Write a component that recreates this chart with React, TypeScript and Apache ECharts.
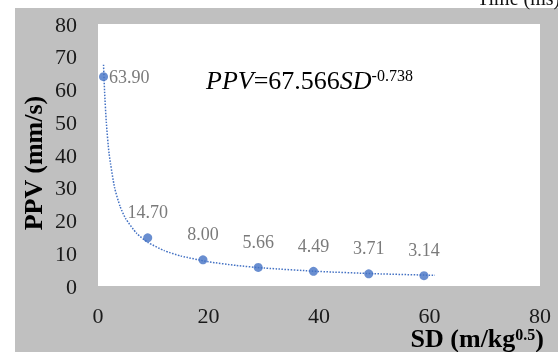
import React, { useEffect, useRef } from "react";
import * as echarts from "echarts";

const sdValues = [1, 9, 19, 29, 39, 49, 59];
const ppvValues = [63.9, 14.7, 8.0, 5.66, 4.49, 3.71, 3.14];
const trendSD = [1, 1.2, 1.5, 2, 3, 4, 5, 7, 9, 12, 15, 20, 25, 30, 40, 50, 61];
const trendPPV = [67.57, 59.06, 50.09, 40.51, 30.03, 24.29, 20.6, 16.07, 13.35, 10.8, 9.16, 7.41, 6.28, 5.49, 4.44, 3.76, 3.25];
const xAxisRange = [0, 80, 20];
const yAxisRange = [0, 80, 10];
const equationParts = ["PPV", "=67.566", "SD", "-0.738"];
const xNameParts = ["SD (m/kg", "0.5", ")"];
const yName = "PPV (mm/s)";
const topLabel = "Time (ms)";

const FONT = "'Liberation Serif', 'Times New Roman', serif";
const BLUE = "#4472C4";

export default function App() {
  const ref = useRef<HTMLDivElement>(null);
  useEffect(() => {
    if (!ref.current) return;
    const chart = echarts.init(ref.current, null, { renderer: "svg" });
    const points = sdValues.map((x, i) => [x, ppvValues[i]]);
    const trend = trendSD.map((x, i) => [x, trendPPV[i]]);
    chart.setOption({
      animation: false,
      grid: {
        left: 98,
        top: 24,
        right: 18,
        bottom: 66,
        show: true,
        backgroundColor: "#ffffff",
        borderWidth: 0,
        containLabel: false,
        outerBoundsMode: "none",
        z: 0,
      },
      graphic: [
        {
          type: "rect",
          z: -10,
          shape: { x: 15, y: 8, width: 543, height: 344 },
          style: { fill: "#c0c0c0" },
          silent: true,
        },
        {
          type: "text",
          x: 477,
          y: 8,
          z: 5,
          style: {
            text: topLabel,
            font: `20px ${FONT}`,
            fill: "#111",
            verticalAlign: "bottom",
            align: "left",
          },
        },
        {
          type: "text",
          x: 206,
          y: 80,
          z: 5,
          style: {
            text: `{i|${equationParts[0]}}{r|${equationParts[1]}}{i|${equationParts[2]}}{s|${equationParts[3]}}`,
            verticalAlign: "middle",
            align: "left",
            rich: {
              i: { fontFamily: FONT, fontStyle: "italic", fontSize: 26, color: "#111" },
              r: { fontFamily: FONT, fontSize: 26, color: "#111" },
              s: { fontFamily: FONT, fontSize: 16, color: "#111", verticalAlign: "top" },
            },
          },
        },
        {
          type: "text",
          x: 544,
          y: 338,
          z: 5,
          style: {
            text: `{b|${xNameParts[0]}}{s|${xNameParts[1]}}{b|${xNameParts[2]}}`,
            verticalAlign: "middle",
            align: "right",
            rich: {
              b: { fontFamily: FONT, fontWeight: "bold", fontSize: 26, lineHeight: 24, color: "#000" },
              s: { fontFamily: FONT, fontWeight: "bold", fontSize: 16, lineHeight: 16, color: "#000", verticalAlign: "top" },
            },
          },
        },
        {
          type: "text",
          x: 33,
          y: 163,
          rotation: Math.PI / 2,
          z: 5,
          style: {
            text: yName,
            font: `bold 26px ${FONT}`,
            fill: "#000",
            align: "center",
            verticalAlign: "middle",
          },
        },
      ],
      xAxis: {
        type: "value",
        min: xAxisRange[0],
        max: xAxisRange[1],
        interval: xAxisRange[2],
        axisLine: { show: false },
        axisTick: { show: false },
        splitLine: { show: false },
        axisLabel: { fontFamily: FONT, fontSize: 22, lineHeight: 20, color: "#1a1a1a", margin: 19 },
      },
      yAxis: {
        type: "value",
        min: yAxisRange[0],
        max: yAxisRange[1],
        interval: yAxisRange[2],
        axisLine: { show: false },
        axisTick: { show: false },
        splitLine: { show: false },
        axisLabel: { fontFamily: FONT, fontSize: 22, color: "#1a1a1a", margin: 21 },
      },
      series: [
        {
          type: "line",
          data: trend,
          showSymbol: false,
          smooth: 0.2,
          lineStyle: { color: BLUE, width: 1.5, type: "dotted" },
          silent: true,
          z: 2,
        },
        {
          type: "scatter",
          data: points.map((pt, i) =>
            i === 0
              ? { value: pt, label: { position: "right", distance: 1 } }
              : { value: pt }
          ),
          symbolSize: 9,
          itemStyle: { color: BLUE },
          z: 3,
          label: {
            show: true,
            position: "top",
            distance: 12,
            fontFamily: FONT,
            fontSize: 18,
            color: "#595959",
            formatter: (p: any) => p.value[1].toFixed(2),
          },
        },
      ],
    });
    return () => chart.dispose();
  }, []);
  return (
    <div
      ref={ref}
      style={{ position: "fixed", left: 0, top: 0, width: 558, height: 352 }}
    />
  );
}
